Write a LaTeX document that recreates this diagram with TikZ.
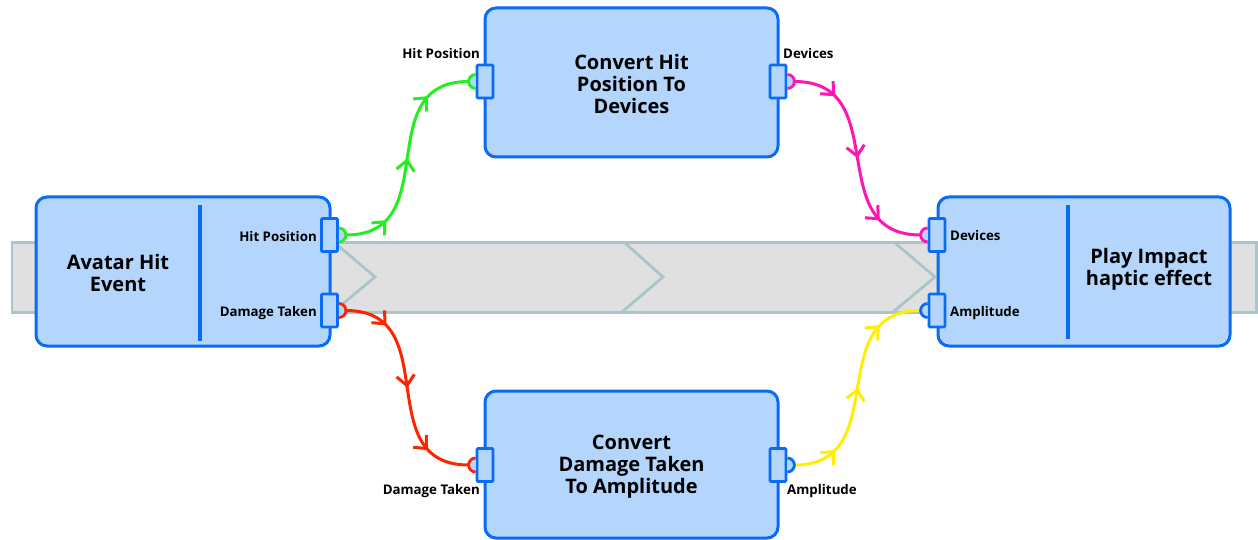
\documentclass[tikz,border=0pt]{standalone}
\usepackage{fontspec}
\setmainfont{Open Sans}
\usetikzlibrary{arrows.meta,decorations.markings}
\definecolor{boxfill}{HTML}{B4D6FC}
\definecolor{boxblue}{HTML}{0A6CF5}
\definecolor{bandfill}{HTML}{E0E0E0}
\definecolor{bandline}{HTML}{A9C4CB}
\definecolor{cgreen}{HTML}{22EE22}
\definecolor{cmag}{HTML}{FF14B4}
\definecolor{cred}{HTML}{FF2400}
\definecolor{cyel}{HTML}{FFEE00}
\tikzset{
  box/.style={draw=boxblue, fill=boxfill, line width=3pt, rounded corners=11pt, inner sep=0pt},
  port/.style={draw=boxblue, fill=boxfill, line width=2.8pt, minimum width=16pt, minimum height=33pt, inner sep=0pt, rounded corners=1pt},
  divider/.style={draw=boxblue, line width=3.2pt},
  title/.style={font=\fontsize{20}{22}\selectfont\bfseries, align=center, inner sep=0pt},
  plabel/.style={font=\fontsize{13.3}{15}\selectfont\bfseries, inner sep=0pt},
  band/.style={draw=bandline, fill=bandfill, line width=2.8pt},
  chev/.style={draw=bandline, line width=2.8pt},
  socket/.style={fill=boxfill, line width=2.8pt},
  wire/.style={line width=3pt,
    postaction={decorate, decoration={markings,
      mark=at position 0.2 with {\arrow{Straight Barb[length=10pt,width=18pt,line width=3pt]}},
      mark=at position 0.5 with {\arrow{Straight Barb[length=10pt,width=18pt,line width=3pt]}},
      mark=at position 0.8 with {\arrow{Straight Barb[length=10pt,width=18pt,line width=3pt]}}}}},
}
\begin{document}
\begin{tikzpicture}[x=1pt,y=-1pt]
\useasboundingbox (0,0) rectangle (1258,540);
% band
\draw[band] (12,242.5) rectangle (1256.5,312.5);
\draw[chev] (335,243) -- (375,277) -- (333,312);
\draw[chev] (625,243) -- (663,277) -- (622,312);
\draw[chev] (895,243) -- (935,277) -- (893,312);
% boxes
\node[box, minimum width=294pt, minimum height=149pt] (avatar) at (183,271.5) {};
\node[box, minimum width=293pt, minimum height=149pt] (conv1) at (631.5,82.5) {};
\node[box, minimum width=293pt, minimum height=147pt] (conv2) at (631.5,464.5) {};
\node[box, minimum width=292pt, minimum height=149pt] (play) at (1084,271.5) {};
\draw[divider] (200,205) -- (200,341);
\draw[divider] (1068,205) -- (1068,339);
% titles
\node[title] (tavatar) at (118,273) {Avatar Hit\\Event};
\node[title] (tconv1) at (631.5,84) {Convert Hit\\Position To\\Devices};
\node[title] (tconv2) at (631.5,467) {Convert\\Damage Taken\\To Amplitude};
\node[title] (tplay) at (1149,269) {Play Impact\\haptic effect};
% ports
\node[port] (a1) at (329.5,235) {};
\node[port] (a2) at (329.5,310.5) {};
\node[port] (c1i) at (485,81.5) {};
\node[port] (c1o) at (778,81.5) {};
\node[port] (c2i) at (485,465) {};
\node[port] (c2o) at (778,465) {};
\node[port] (p1) at (937,235) {};
\node[port] (p2) at (937,310.5) {};
% port labels
\node[plabel, anchor=east] (la1) at (317,237) {Hit Position};
\node[plabel, anchor=east] (la2) at (317,313) {Damage Taken};
\node[plabel, anchor=east] (lc1i) at (480,54) {Hit Position};
\node[plabel, anchor=west] (lc1o) at (783,54) {Devices};
\node[plabel, anchor=east] (lc2i) at (480,491) {Damage Taken};
\node[plabel, anchor=west] (lc2o) at (787,491) {Amplitude};
\node[plabel, anchor=west] (lp1) at (950,236) {Devices};
\node[plabel, anchor=west] (lp2) at (950,313) {Amplitude};
% socket outer points
\coordinate (sa1) at ([xshift=7pt]a1.east);
\coordinate (sa2) at ([xshift=7pt]a2.east);
\coordinate (sc1i) at ([xshift=-7pt]c1i.west);
\coordinate (sc1o) at ([xshift=7pt]c1o.east);
\coordinate (sc2i) at ([xshift=-7pt]c2i.west);
\coordinate (sc2o) at ([xshift=7pt]c2o.east);
\coordinate (sp1) at ([xshift=-7pt]p1.west);
\coordinate (sp2) at ([xshift=-7pt]p2.west);
% connectors
\draw[wire, cgreen] (sa1) .. controls +(100,0) and +(-100,0) .. (sc1i);
\draw[wire, cred] (sa2) .. controls +(100,0) and +(-100,0) .. (sc2i);
\draw[wire, cmag] (sc1o) .. controls +(100,0) and +(-100,0) .. (sp1);
\draw[wire, cyel] (sc2o) .. controls +(100,0) and +(-100,0) .. (sp2);
% sockets
\draw[socket, draw=cgreen] ([yshift=7pt]a1.east) arc[start angle=90, end angle=-90, radius=7pt];
\draw[socket, draw=cred] ([yshift=7pt]a2.east) arc[start angle=90, end angle=-90, radius=7pt];
\draw[socket, draw=cgreen] ([yshift=7pt]c1i.west) arc[start angle=90, end angle=270, radius=7pt];
\draw[socket, draw=cmag] ([yshift=7pt]c1o.east) arc[start angle=90, end angle=-90, radius=7pt];
\draw[socket, draw=cred] ([yshift=7pt]c2i.west) arc[start angle=90, end angle=270, radius=7pt];
\draw[socket, draw=boxblue] ([yshift=7pt]c2o.east) arc[start angle=90, end angle=-90, radius=7pt];
\draw[socket, draw=cmag] ([yshift=7pt]p1.west) arc[start angle=90, end angle=270, radius=7pt];
\draw[socket, draw=boxblue] ([yshift=7pt]p2.west) arc[start angle=90, end angle=270, radius=7pt];
\end{tikzpicture}
\end{document}
